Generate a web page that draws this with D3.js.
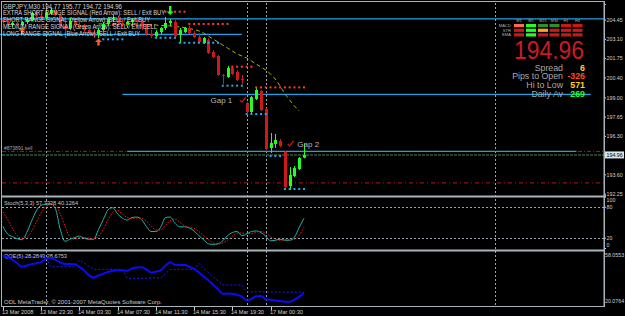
<!DOCTYPE html>
<html>
<head>
<meta charset="utf-8">
<script src="https://cdn.jsdelivr.net/npm/d3@7"></script>
<style>
html, body { margin: 0; padding: 0; background: #000; overflow: hidden; }
text { font-family: "Liberation Sans", Arial, sans-serif; }
</style>
</head>
<body>
<script>
var w = 625;
var h = 316;

// ---- data (GBPJPY M30, bar 0 = 13 Mar 19:30) ----
var opens  = [204.43,204.29,204.08,204.22,204.08,204.29,204.43,204.92,204.71,204.57,204.92,205.13,204.78,204.01,203.87,204.36,
              204.08,203.94,203.73,203.51,203.37,203.73,204.15,204.50,204.57,204.22,204.08,204.29,204.43,204.29,203.87,203.44,
              203.30,203.58,203.87,204.22,204.29,203.37,203.58,203.87,203.51,203.23,202.81,203.02,202.18,201.90,200.57,200.43,
              201.06,200.78,200.29,198.60,197.97,198.88,199.45,198.18,195.45,195.73,195.94,195.17,192.78,193.48,193.97,194.77];
var highs  = [204.64,204.43,204.29,204.36,204.36,204.57,204.99,205.06,204.85,205.20,205.27,205.34,204.85,204.29,204.57,204.50,
              204.29,204.15,203.94,203.80,203.87,204.29,204.64,204.78,204.71,204.50,204.36,204.57,204.64,204.50,204.01,203.73,
              203.73,203.94,204.64,204.50,204.43,203.87,203.94,204.01,203.66,203.51,203.23,203.16,202.32,201.97,200.64,201.20,
              201.20,200.92,200.57,198.67,199.09,199.66,199.52,198.25,196.50,196.43,196.08,195.24,194.11,194.18,194.81,195.77];
var lows   = [204.15,204.01,203.94,204.01,204.01,204.15,204.36,204.57,204.43,204.50,204.78,204.71,203.87,203.66,203.73,203.94,
              203.80,203.58,203.37,203.23,203.16,203.66,204.01,204.29,204.08,203.94,203.87,204.08,204.15,203.73,203.30,203.16,
              203.16,203.44,203.73,204.01,203.23,202.81,203.51,203.44,203.16,202.81,202.74,202.04,201.76,200.50,199.94,200.36,
              200.57,200.15,199.94,197.90,197.90,198.81,198.04,195.31,195.10,195.45,195.52,192.57,192.50,193.41,193.90,194.72];
var closes = [204.29,204.08,204.22,204.08,204.29,204.43,204.92,204.71,204.57,204.92,205.13,204.78,204.01,203.80,204.36,204.08,
              203.94,203.73,203.51,203.37,203.73,204.15,204.50,204.57,204.22,204.08,204.29,204.43,204.29,203.87,203.44,203.30,
              203.58,203.87,204.22,204.36,203.30,203.73,203.87,203.51,203.23,202.88,203.16,202.11,201.83,200.57,200.50,201.06,
              200.64,200.22,200.22,197.97,199.02,199.52,198.11,195.38,195.80,196.01,195.59,192.71,193.55,194.04,194.74,194.96];

// moving average (yellow dashed), starts at bar 20
var maStart = 20;
var maValues = [204.15,204.15,204.18,204.18,204.18,204.18,204.18,204.18,204.15,204.15,204.11,204.08,204.08,204.04,204.04,204.01,
                203.97,203.94,203.90,203.83,203.76,203.66,203.51,203.30,203.09,202.88,202.67,202.46,202.25,202.04,201.90,201.76,
                201.55,201.34,201.13,200.92,200.64,200.29,199.80,199.24,198.81,198.39,198.04];

var stochMain   = [42,27,22,18,16,30,52,72,83,85,86,76,36,13,17,20,23,19,17,17,36,55,74,78,66,58,54,59,60,55,42,32,
                   32,40,59,60,48,41,41,39,33,24,16,8,7,8,14,24,30,32,24,27,32,33,30,23,14,15,17,15,15,21,40,57.73];
var stochSignal = [70,55,38,24,19,21,32,50,68,80,84,83,66,42,22,17,20,20,19,18,23,36,55,69,73,66,59,57,58,58,52,43,
                   35,35,44,53,56,50,43,40,38,32,24,16,10,8,10,15,23,29,29,28,28,31,32,29,22,17,15,16,16,17,25,40.13];

var qqeMain  = [55.6,54.0,52.4,49.8,47.3,48.2,49.2,49.8,50.6,53.1,53.6,52.3,50.5,49.3,49.3,49.2,47.2,44.5,41.0,39.3,40.9,42.3,43.5,44.4,
                44.8,44.7,44.4,46.0,46.7,46.9,45.4,43.0,43.7,44.7,48.0,50.6,48.7,48.6,48.6,47.3,45.7,43.2,40.2,37.4,34.1,30.9,27.6,27.7,
                27.6,26.7,25.5,22.6,23.8,25.8,26.0,23.6,23.2,22.7,22.2,21.8,21.8,23.3,25.3,28.28];
var qqeTrail = [55.0,55.0,54.6,54.6,54.6,54.6,54.6,54.6,54.6,54.6,47.3,47.3,47.3,47.3,47.3,47.3,52.2,50.0,47.7,45.4,45.4,45.4,45.4,45.4,
                45.4,45.4,38.8,38.8,38.8,38.8,38.8,39.2,39.2,39.2,42.0,45.4,45.4,45.4,45.4,45.4,45.4,49.8,46.0,43.0,40.0,37.0,34.0,34.0,
                34.0,34.0,34.0,29.0,29.0,29.0,29.0,28.9,28.9,28.8,28.8,28.7,28.7,28.7,28.7,28.68];

var timeLabels    = ["13 Mar 2008","13 Mar 23:30","14 Mar 03:30","14 Mar 07:30","14 Mar 11:30","14 Mar 15:30","14 Mar 19:30","17 Mar 00:30"];
var timeLabelBars = [0,8,16,24,32,40,48,56];
var priceTicks    = [204.45,203.10,201.75,200.40,199.00,197.65,196.30,193.60,192.25];
var stochTicks    = [100,80,20,0];
var stochLevels   = [80,20];
var qqeTicks      = [58.0553,20.0764];
var separatorBars = [9,51,55,103];

// resistance (red) / support (cyan) dots: price, first bar, last bar
var resistDots = [[205.01,34,38],[204.15,39,47],[204.08,23,31],[201.15,48,52],[199.70,53,63]];
var supportDots = [[203.07,21,25],[203.18,32,36],[202.83,37,45],[199.82,46,50],[197.83,51,55],[194.88,56,58],[192.57,59,63]];

// drawn horizontal lines: price, from bar, to bar
var hLines = [[204.50,-1,126],[203.42,-1,50],[199.21,25,123],[195.21,26,120]];
var orderPrice = 195.21;
var stopPrice = 193.00;
var bidPrice = 194.96;

// signal arrows: bar, tip price
var arrowsUp = [[4,203.94],[20,203.13]];
var arrowsDown = [[35,204.78]];

var signalLines = ["GBPJPY,M30  194.77 195.77 194.72 194.96",
                   "EXTRA SHORT RANGE SIGNAL (Red Arrow): SELL / Exit BUY",
                   "SHORT RANGE SIGNAL (Yellow Arrow): SELL / Exit BUY",
                   "MEDIUM RANGE SIGNAL (Green Arrow): SELL / Exit SELL",
                   "LONG RANGE SIGNAL (Blue Arrow): SELL / Exit BUY"];
var signalWidths = [119,162,147,154,137];

var tfNames = ["M1","M5","M15","M30","H1","H4"];
var indNames = ["MACD","STR","EMA"];
var tfColors = [["#ff6a4a","#c41a1a","#c41a1a"],
                ["#22ff22","#22ff22","#22ff22"],
                ["#2f8f2f","#ffa020","#c41a1a"],
                ["#2f8f2f","#c41a1a","#c41a1a"],
                ["#c41a1a","#c41a1a","#c41a1a"],
                ["#c41a1a","#c41a1a","#c41a1a"]];
var infoNames  = ["Spread","Pips to Open","Hi to Low","Daily Av"];
var infoValues = ["6","-326","571","269"];
var infoColors = ["#ffd21e","#ff4a1e","#ffd21e","#22ff22"];

// ---- scales ----
var x = d3.scaleLinear().domain([0, 63]).range([2.9, 304]);
var y = d3.scaleLinear().domain([192.15, 205.55]).range([195, 4]);
var yS = d3.scaleLinear().domain([0, 100]).range([248, 196.4]);
var yQ = d3.scaleLinear().domain([20.0764, 58.0553]).range([304, 252]);
var axisX = 604;

var svg = d3.select("body").append("svg")
    .attr("width", w)
    .attr("height", h);

svg.append("rect").attr("width", w).attr("height", h).attr("fill", "#000");

var grid = "#9aa6b0";

// separators (vertical dotted)
svg.selectAll(".sep").data(separatorBars).enter().append("line")
    .attr("x1", function(d) { return Math.round(x(d)) + 0.5; })
    .attr("x2", function(d) { return Math.round(x(d)) + 0.5; })
    .attr("y1", 3).attr("y2", 306)
    .attr("stroke", grid).attr("stroke-width", 1).attr("stroke-dasharray", "2,2");

// stoch levels
svg.selectAll(".lvl").data(stochLevels).enter().append("line")
    .attr("x1", 2).attr("x2", axisX)
    .attr("y1", function(d) { return Math.round(yS(d)) + 0.5; })
    .attr("y2", function(d) { return Math.round(yS(d)) + 0.5; })
    .attr("stroke", grid).attr("stroke-dasharray", "2,2");

var main = svg.append("g");

// order line, stop line, bid line
main.append("line")
    .attr("x1", 2).attr("x2", axisX).attr("y1", y(orderPrice)).attr("y2", y(orderPrice))
    .attr("stroke", "#b01818").attr("stroke-dasharray", "4,2,1,2");
main.append("line")
    .attr("x1", 2).attr("x2", axisX).attr("y1", y(stopPrice)).attr("y2", y(stopPrice))
    .attr("stroke", "#b01818").attr("stroke-dasharray", "4,3,1,3");
main.append("line")
    .attr("x1", 2).attr("x2", axisX).attr("y1", y(bidPrice)).attr("y2", y(bidPrice))
    .attr("stroke", "#2f5a3a").attr("stroke-width", 1.5).attr("stroke-dasharray", "3,1");

main.append("text")
    .attr("x", 4).attr("y", y(orderPrice) - 1)
    .attr("font-size", 5).attr("fill", "#a8a8a8")
    .text("#873891 sell");

// blue horizontal lines
main.selectAll(".hl").data(hLines).enter().append("line")
    .attr("x1", function(d) { return Math.max(0, x(d[1])); })
    .attr("x2", function(d) { return Math.min(axisX, x(d[2])); })
    .attr("y1", function(d) { return y(d[0]); })
    .attr("y2", function(d) { return y(d[0]); })
    .attr("stroke", "#1ea0e6").attr("stroke-width", 1.3);

// moving average
main.append("path")
    .datum(maValues)
    .attr("d", d3.line().x(function(d, i) { return x(i + maStart); }).y(function(d) { return y(d); }))
    .attr("fill", "none").attr("stroke", "#b4b400").attr("stroke-width", 1)
    .attr("stroke-dasharray", "4,3");

// candles
var bars = d3.range(opens.length);
function candleColor(i) { return closes[i] >= opens[i] ? "#22ff22" : "#cc1a1a"; }
main.selectAll(".wick").data(bars).enter().append("line")
    .attr("x1", function(i) { return Math.round(x(i)) + 0.5; })
    .attr("x2", function(i) { return Math.round(x(i)) + 0.5; })
    .attr("y1", function(i) { return y(highs[i]); })
    .attr("y2", function(i) { return y(lows[i]); })
    .attr("stroke", candleColor);
main.selectAll(".body").data(bars).enter().append("rect")
    .attr("x", function(i) { return Math.round(x(i)) - 1; })
    .attr("width", 3)
    .attr("y", function(i) { return y(Math.max(opens[i], closes[i])); })
    .attr("height", function(i) { return Math.max(1, Math.abs(y(opens[i]) - y(closes[i]))); })
    .attr("fill", candleColor);

// S/R dots
function dotRows(list) {
    var out = [];
    list.forEach(function(s) { d3.range(s[1], s[2] + 1).forEach(function(b) { out.push([b, s[0]]); }); });
    return out;
}
main.selectAll(".rdot").data(dotRows(resistDots)).enter().append("rect")
    .attr("x", function(d) { return x(d[0]) - 1; })
    .attr("y", function(d) { return y(d[1]) - 1; })
    .attr("width", 2).attr("height", 2).attr("fill", "#ff3a2a");
main.selectAll(".sdot").data(dotRows(supportDots)).enter().append("rect")
    .attr("x", function(d) { return x(d[0]) - 1; })
    .attr("y", function(d) { return y(d[1]) - 1; })
    .attr("width", 2).attr("height", 2).attr("fill", "#22a8ee");

// arrows
main.selectAll(".aup").data(arrowsUp).enter().append("path")
    .attr("transform", function(d) { return "translate(" + x(d[0]) + "," + y(d[1]) + ")"; })
    .attr("d", "M0,0 L3.5,3.5 L1.2,3.5 L1.2,7 L-1.2,7 L-1.2,3.5 L-3.5,3.5 Z")
    .attr("fill", "#ff5a28");
main.selectAll(".adn").data(arrowsDown).enter().append("path")
    .attr("transform", function(d) { return "translate(" + x(d[0]) + "," + y(d[1]) + ")"; })
    .attr("d", "M0,0 L3.5,-3.5 L1.2,-3.5 L1.2,-9 L-1.2,-9 L-1.2,-3.5 L-3.5,-3.5 Z")
    .attr("fill", "#22ff22");

// gap annotations
var gaps = [["Gap 1", 48, 198.81, "end"], ["Gap 2", 61.6, 195.73, "start"]];
main.selectAll(".gap").data(gaps).enter().append("text")
    .attr("x", function(d) { return x(d[1]); })
    .attr("y", function(d) { return y(d[2]) + 3; })
    .attr("text-anchor", function(d) { return d[3]; })
    .attr("font-size", 8).attr("fill", "#b8b8b8")
    .text(function(d) { return d[0]; });
var checks = [[50, 198.81], [60, 195.73]];
main.selectAll(".chk").data(checks).enter().append("path")
    .attr("transform", function(d) { return "translate(" + x(d[0]) + "," + y(d[1]) + ")"; })
    .attr("d", "M-2,0 L0,2 L4,-3")
    .attr("fill", "none").attr("stroke", "#cc1a1a").attr("stroke-width", 1.2);

// signal text
svg.selectAll(".sig").data(signalLines).enter().append("text")
    .attr("x", 3)
    .attr("y", function(d, i) { return 8.5 + i * 6.8; })
    .attr("font-size", 6.6)
    .attr("fill", "#d8d8d8")
    .attr("textLength", function(d, i) { return signalWidths[i]; })
    .attr("lengthAdjust", "spacingAndGlyphs")
    .text(function(d) { return d; });

// timeframe panel
var colX = [514, 526, 538, 549.5, 561, 572.5];
var rowY = [24, 28.7, 33.3];
svg.selectAll(".tfn").data(tfNames).enter().append("text")
    .attr("x", function(d, i) { return colX[i] + 5; })
    .attr("y", 21.5).attr("text-anchor", "middle")
    .attr("font-size", 3.8).attr("fill", "#b0b0b0")
    .text(function(d) { return d; });
svg.selectAll(".indn").data(indNames).enter().append("text")
    .attr("x", 511).attr("y", function(d, i) { return rowY[i] + 3; })
    .attr("text-anchor", "end")
    .attr("font-size", 4.2).attr("fill", "#b0b0b0")
    .text(function(d) { return d; });
tfColors.forEach(function(col, ci) {
    svg.selectAll(".cell" + ci).data(col).enter().append("rect")
        .attr("x", colX[ci]).attr("y", function(d, ri) { return rowY[ri]; })
        .attr("width", 10).attr("height", 3.2)
        .attr("fill", function(d) { return d; });
});

svg.append("text")
    .attr("x", 584).attr("y", 58.5)
    .attr("text-anchor", "end")
    .attr("font-size", 25).attr("fill", "#cc1a24")
    .attr("textLength", 70).attr("lengthAdjust", "spacingAndGlyphs")
    .text(bidPrice.toFixed(2));

svg.selectAll(".infon").data(infoNames).enter().append("text")
    .attr("x", 563).attr("y", function(d, i) { return 70.5 + i * 8.9; })
    .attr("text-anchor", "end")
    .attr("font-size", 8.8).attr("fill", "#a8a8a8")
    .text(function(d) { return d; });
svg.selectAll(".infov").data(infoValues).enter().append("text")
    .attr("x", 585).attr("y", function(d, i) { return 70.5 + i * 8.9; })
    .attr("text-anchor", "end")
    .attr("font-size", 8.8).attr("font-weight", "bold")
    .attr("fill", function(d, i) { return infoColors[i]; })
    .text(function(d) { return d; });

// stoch pane
svg.append("text").attr("x", 4).attr("y", 205)
    .attr("font-size", 5.6).attr("fill", "#c8c8c8")
    .attr("textLength", 74).attr("lengthAdjust", "spacingAndGlyphs")
    .text("Stoch(5,3,3) 57.7328 40.1264");
svg.append("path").datum(stochMain)
    .attr("d", d3.line().curve(d3.curveMonotoneX).x(function(d, i) { return x(i); }).y(function(d) { return yS(d); }))
    .attr("fill", "none").attr("stroke", "#20b2aa").attr("stroke-width", 1);
svg.append("path").datum(stochSignal)
    .attr("d", d3.line().curve(d3.curveMonotoneX).x(function(d, i) { return x(i); }).y(function(d) { return yS(d); }))
    .attr("fill", "none").attr("stroke", "#ff1a1a").attr("stroke-width", 1).attr("stroke-dasharray", "1.5,1.5");

// QQE pane
svg.append("text").attr("x", 4).attr("y", 258)
    .attr("font-size", 5.6).attr("fill", "#c8c8c8")
    .attr("textLength", 63).attr("lengthAdjust", "spacingAndGlyphs")
    .text("QQE(5) 28.2849 28.6753");
svg.append("path").datum(qqeTrail)
    .attr("d", d3.line().x(function(d, i) { return x(i); }).y(function(d) { return yQ(d); }))
    .attr("fill", "none").attr("stroke", "#1a1aff").attr("stroke-width", 1).attr("stroke-dasharray", "2,2");
svg.append("path").datum(qqeMain)
    .attr("d", d3.line().curve(d3.curveMonotoneX).x(function(d, i) { return x(i); }).y(function(d) { return yQ(d); }))
    .attr("fill", "none").attr("stroke", "#0a0aff").attr("stroke-width", 2);
svg.append("text").attr("x", 4).attr("y", 303.5)
    .attr("font-size", 5.6).attr("fill", "#c8c8c8")
    .attr("textLength", 158).attr("lengthAdjust", "spacingAndGlyphs")
    .text("ODL MetaTrader, \u00a9 2001-2007 MetaQuotes Software Corp.");

// frame and pane separators
var frame = "#a8b4bc";
svg.append("rect").attr("x", 1.5).attr("y", 1.5).attr("width", axisX - 1.5).attr("height", 305)
    .attr("fill", "none").attr("stroke", frame);
[195.5, 249.5].forEach(function(py) {
    svg.append("rect").attr("x", 1).attr("y", py).attr("width", axisX - 1).attr("height", 2).attr("fill", frame);
});

// right axes
var axR = svg.append("g").attr("transform", "translate(" + axisX + ",0)")
    .call(d3.axisRight(y).tickValues(priceTicks).tickSize(2).tickFormat(d3.format(".2f")));
var axS = svg.append("g").attr("transform", "translate(" + axisX + ",0)")
    .call(d3.axisRight(yS).tickValues(stochTicks).tickSize(2).tickFormat(d3.format("d")));
axS.selectAll(".tick text").attr("dy", function(d) { return d == 100 ? "0.9em" : d == 0 ? "-0.3em" : "0.32em"; });
var axQ = svg.append("g").attr("transform", "translate(" + axisX + ",0)")
    .call(d3.axisRight(yQ).tickValues(qqeTicks).tickSize(0).tickFormat(d3.format(".4f")));
axQ.selectAll(".tick text").attr("dy", function(d, i) { return i == 0 ? "0.9em" : "-0.2em"; });
[axR, axS, axQ].forEach(function(a) {
    a.select(".domain").attr("stroke", frame);
    a.selectAll(".tick line").attr("stroke", "#d0d0d0");
    a.selectAll(".tick text").attr("fill", "#d0d0d0").attr("font-size", 5.3).attr("x", 2.5)
        .attr("font-family", "Liberation Sans, Arial, sans-serif");
});
axQ.selectAll(".tick text").attr("x", 1);
svg.append("line").attr("x1", axisX + 0.5).attr("x2", axisX + 0.5).attr("y1", 1).attr("y2", 307).attr("stroke", frame);

// bid price label
svg.append("rect").attr("x", axisX + 1).attr("y", y(bidPrice) - 3.5).attr("width", 19).attr("height", 7).attr("fill", "#d8e4ec");
svg.append("text").attr("x", axisX + 2.5).attr("y", y(bidPrice) + 2)
    .attr("font-size", 5.3).attr("fill", "#000").text(bidPrice.toFixed(2));

// time axis
var tg = svg.selectAll(".tl").data(timeLabels).enter().append("g")
    .attr("transform", function(d, i) { return "translate(" + Math.round(x(timeLabelBars[i])) + ",0)"; });
tg.append("line").attr("x1", 0.5).attr("x2", 0.5).attr("y1", 307).attr("y2", 310).attr("stroke", "#d0d0d0");
tg.append("text").attr("x", -1).attr("y", 314)
    .attr("font-size", 5.6).attr("fill", "#d0d0d0")
    .text(function(d) { return d; });
</script>
</body>
</html>
